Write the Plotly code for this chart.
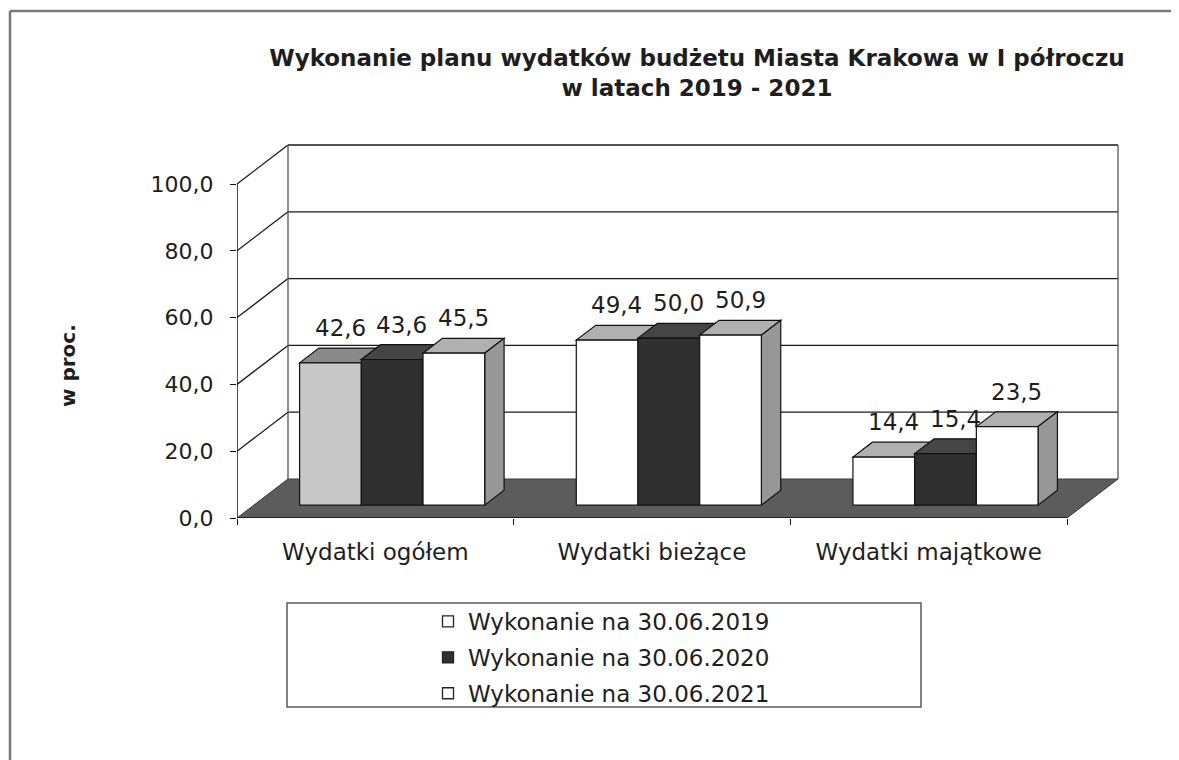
import plotly.graph_objects as go

# ---------------- data ----------------
categories = ["Wydatki ogółem", "Wydatki bieżące", "Wydatki majątkowe"]
series_names = ["Wykonanie na 30.06.2019", "Wykonanie na 30.06.2020", "Wykonanie na 30.06.2021"]
v2019 = [42.6, 49.4, 14.4]
v2020 = [43.6, 50.0, 15.4]
v2021 = [45.5, 50.9, 23.5]
y_ticks = [0, 20, 40, 60, 80, 100]
title_lines = ["Wykonanie planu wydatków budżetu Miasta Krakowa w I półroczu", "w latach 2019 - 2021"]
y_title = "w proc."

series_values = [v2019, v2020, v2021]

# ---------------- styling / geometry (pixels in the page) ----------------
OFF = 8                      # default page body margin
WIN_W, WIN_H = 1179, 760
FIG_W, FIG_H = WIN_W - OFF, WIN_H - OFF
FRONT_L, FRONT_R = 237 - OFF, 1067 - OFF
FRONT_BOT, FRONT_TOP = 518 - OFF, 184 - OFF
DEPTH_X, DEPTH_Y = 51, 39
PAD = 3

plot_l = FRONT_L
plot_r = FRONT_R + DEPTH_X + PAD
plot_b = FRONT_BOT
plot_t = FRONT_TOP - DEPTH_Y - PAD

n_cat = len(categories)
cat_px = (FRONT_R - FRONT_L) / n_cat
y_ppu = (FRONT_BOT - FRONT_TOP) / 100.0

x_range = [-0.5, -0.5 + (plot_r - plot_l) / cat_px]
y_range = [0, (plot_b - plot_t) / y_ppu]
dxu = DEPTH_X / cat_px
dyu = DEPTH_Y / y_ppu

group_w = 0.669
bar_w = group_w / 3
f0 = 0.33     # depth position of bar front
fd = 0.38     # bar depth fraction

front_colors = [["#c8c8c8", "#ffffff", "#ffffff"], ["#303030"] * 3, ["#ffffff"] * 3]
top_colors = [["#8a8a8a", "#b0b0b0", "#b0b0b0"], ["#454545"] * 3, ["#b0b0b0"] * 3]
side_color = "#979797"
legend_colors = ["#ffffff", "#303030", "#ffffff"]
txt = "#1e1e1e"
FONT = "DejaVu Sans"


def px2paper_x(px):
    return (px - OFF - plot_l) / (plot_r - plot_l)


def px2paper_y(py):
    return (plot_b - (py - OFF)) / (plot_b - plot_t)


fig = go.Figure()
shapes = []

# floor
x0f, x1f = -0.5, -0.5 + n_cat
shapes.append(dict(type="path", layer="below", xref="x", yref="y",
                   path=f"M {x0f},0 L {x1f},0 L {x1f+dxu},{dyu} L {x0f+dxu},{dyu} Z",
                   fillcolor="#5c5c5c", line=dict(color="#3a3a3a", width=1)))
# left wall diagonals and back wall grid
for v in y_ticks[1:]:
    shapes.append(dict(type="line", layer="below", xref="x", yref="y",
                       x0=x0f, y0=v, x1=x0f + dxu, y1=v + dyu, line=dict(color="#1a1a1a", width=1.3)))
    shapes.append(dict(type="line", layer="below", xref="x", yref="y",
                       x0=x0f + dxu, y0=v + dyu, x1=x1f + dxu, y1=v + dyu, line=dict(color="#1a1a1a", width=1.3)))
# back wall verticals
for xv in (x0f + dxu, x1f + dxu):
    shapes.append(dict(type="line", layer="below", xref="x", yref="y",
                       x0=xv, y0=dyu, x1=xv, y1=y_ticks[-1] + dyu, line=dict(color="#555555", width=1.3)))

# bars: top and side faces
annotations = []
for k, vals in enumerate(series_values):
    for i, v in enumerate(vals):
        xc = i + f0 * dxu
        xl = xc - group_w / 2 + k * bar_w
        xr = xl + bar_w
        yb = f0 * dyu
        yt = yb + v
        ddx, ddy = fd * dxu, fd * dyu
        shapes.append(dict(type="path", layer="below", xref="x", yref="y",
                           path=f"M {xl},{yt} L {xr},{yt} L {xr+ddx},{yt+ddy} L {xl+ddx},{yt+ddy} Z",
                           fillcolor=top_colors[k][i], line=dict(color="#111111", width=1.2)))
        if k == len(series_values) - 1:
            shapes.append(dict(type="path", layer="below", xref="x", yref="y",
                               path=f"M {xr},{yb} L {xr+ddx},{yb+ddy} L {xr+ddx},{yt+ddy} L {xr},{yt} Z",
                               fillcolor=side_color, line=dict(color="#111111", width=1.2)))
        annotations.append(dict(xref="x", yref="y", x=(xl + xr) / 2 + ddx / 2, y=yt + ddy,
                                text=f"{v:.1f}".replace(".", ","), showarrow=False,
                                xanchor="center", yanchor="bottom", yshift=5,
                                font=dict(family=FONT, size=23, color=txt)))

# front axis lines
shapes.append(dict(type="line", layer="above", xref="x", yref="y", x0=x0f, y0=0, x1=x0f, y1=y_ticks[-1],
                   line=dict(color="#111111", width=1.5)))
shapes.append(dict(type="line", layer="above", xref="x", yref="y", x0=x0f, y0=0, x1=x1f, y1=0,
                   line=dict(color="#111111", width=1.5)))

# bars (front faces)
for k, vals in enumerate(series_values):
    fig.add_trace(go.Bar(
        x=[i + f0 * dxu for i in range(n_cat)], y=vals, base=f0 * dyu,
        width=bar_w, offset=-group_w / 2 + k * bar_w,
        marker=dict(color=front_colors[k], line=dict(color="#111111", width=1.2)),
        name=series_names[k], showlegend=False, hoverinfo="y"))

# legend entries
for k, name in enumerate(series_names):
    fig.add_trace(go.Scatter(x=[None], y=[None], mode="markers", name=name,
                             legendgroup=name,
                             marker=dict(symbol="square", size=11, color=legend_colors[k],
                                         line=dict(color="#222222", width=1.3))))

# legend box and outer border (paper coords)
shapes.append(dict(type="rect", xref="paper", yref="paper",
                   x0=px2paper_x(287), x1=px2paper_x(921), y0=px2paper_y(707), y1=px2paper_y(603),
                   line=dict(color="#5a5a5a", width=1.5), fillcolor="rgba(0,0,0,0)"))
shapes.append(dict(type="line", xref="paper", yref="paper",
                   x0=px2paper_x(10), x1=px2paper_x(WIN_W + 5), y0=px2paper_y(11), y1=px2paper_y(11),
                   line=dict(color="#7a7a7a", width=2.5)))
shapes.append(dict(type="line", xref="paper", yref="paper",
                   x0=px2paper_x(10), x1=px2paper_x(10), y0=px2paper_y(11), y1=px2paper_y(WIN_H + 5),
                   line=dict(color="#7a7a7a", width=2.5)))

annotations.append(dict(xref="paper", yref="paper", x=px2paper_x(68), y=px2paper_y(366),
                        text=y_title, textangle=-90, showarrow=False,
                        xanchor="center", yanchor="middle",
                        font=dict(family=FONT, size=20, color=txt, weight="bold")))

fig.update_layout(
    width=FIG_W, height=FIG_H,
    margin=dict(l=plot_l, r=FIG_W - plot_r, t=plot_t, b=FIG_H - plot_b, pad=0),
    paper_bgcolor="white", plot_bgcolor="white",
    separators=", ",
    barmode="overlay",
    title=dict(text="<br>".join(title_lines), x=(697 - OFF) / FIG_W, xanchor="center",
               y=1 - (66 - OFF) / FIG_H, yanchor="top",
               font=dict(family=FONT, size=23, color=txt, weight="bold")),
    xaxis=dict(range=x_range, tickvals=list(range(n_cat)), ticktext=categories, ticks="",
               showgrid=False, zeroline=False, showline=False, ticklabelstandoff=18,
               tickfont=dict(family=FONT, size=23, color=txt),
               minor=dict(tickvals=[-0.5 + j for j in range(n_cat + 1)], ticks="outside",
                          ticklen=6, tickcolor="#111111", showgrid=False)),
    yaxis=dict(range=y_range, tickvals=y_ticks, tickformat=".1f", ticks="outside", ticklen=6,
               tickcolor="#111111", showgrid=False, zeroline=False, showline=False,
               ticklabelstandoff=12,
               tickfont=dict(family=FONT, size=22, color=txt)),
    legend=dict(x=px2paper_x(428), y=px2paper_y(600), xanchor="left", yanchor="top",
                bgcolor="rgba(0,0,0,0)", borderwidth=0, tracegroupgap=3,
                font=dict(family=FONT, size=23, color=txt)),
    shapes=shapes,
    annotations=annotations,
)

fig.write_html("out.html")
